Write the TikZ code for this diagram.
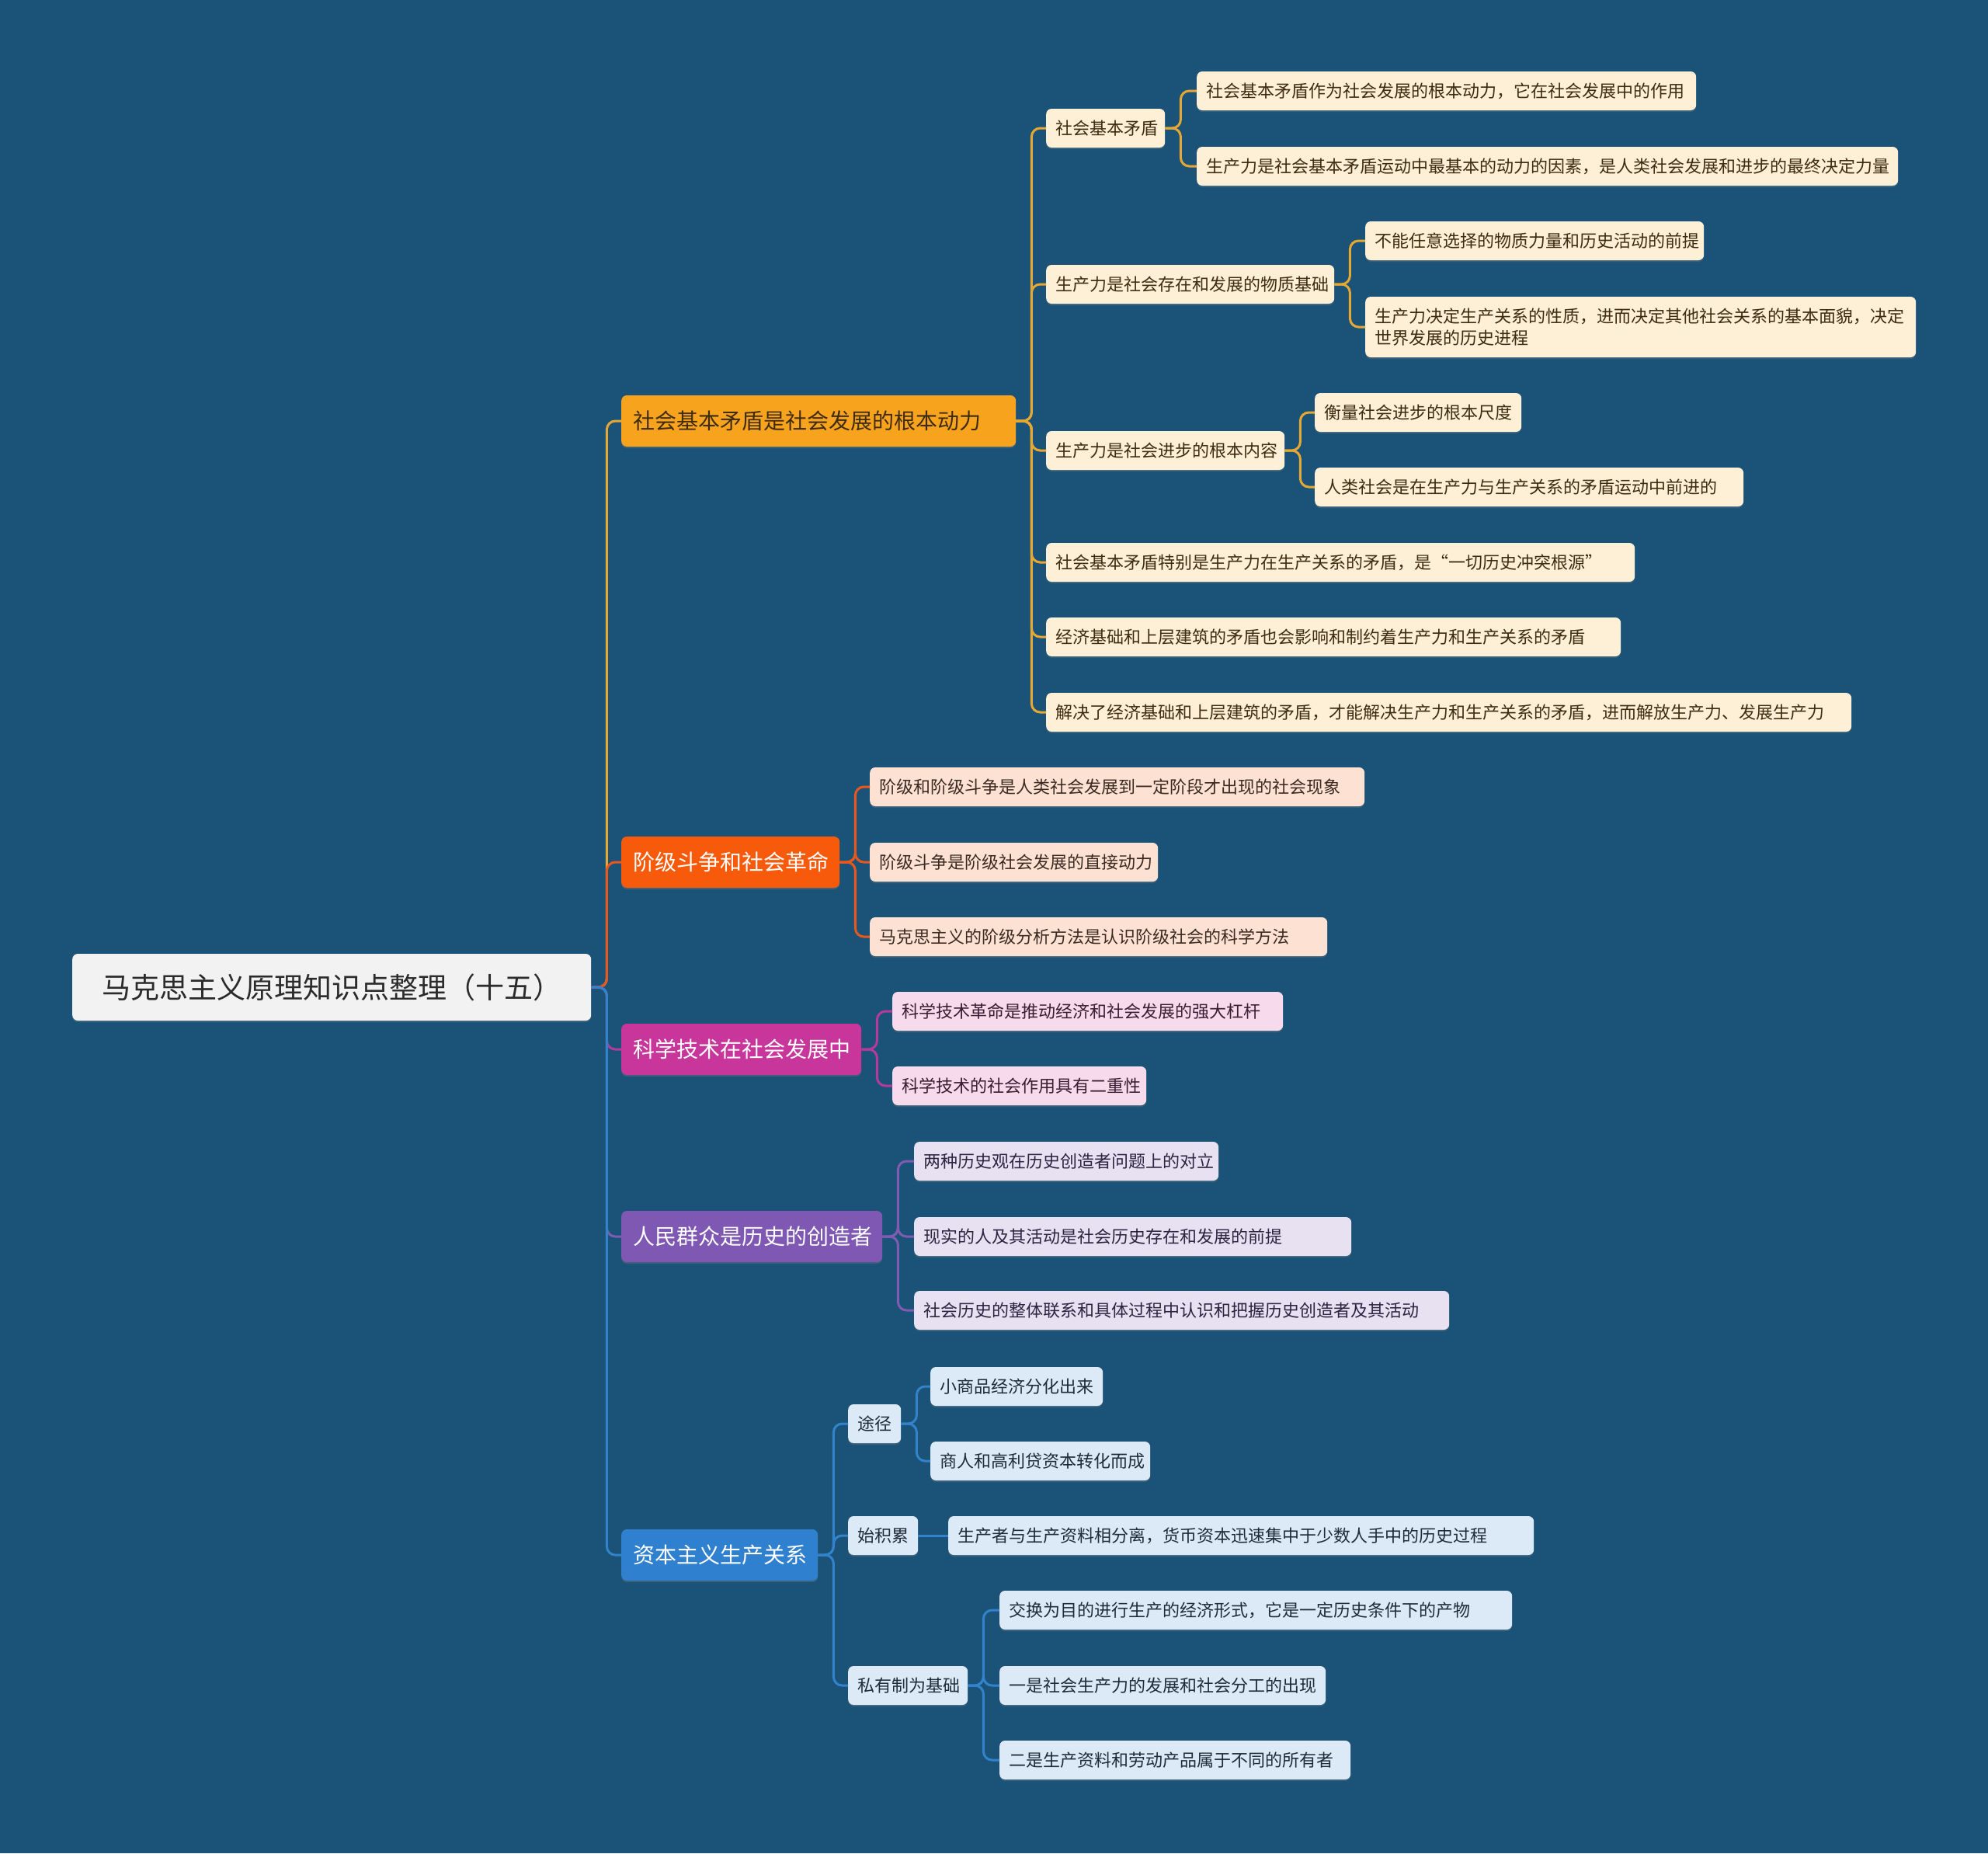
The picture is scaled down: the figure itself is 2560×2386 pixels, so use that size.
\documentclass[tikz,border=0pt]{standalone}
\usepackage{fontspec}
\setmainfont{Noto Sans CJK SC}
\usetikzlibrary{shadows}
\definecolor{bg}{HTML}{1A5377}
\definecolor{rootfill}{HTML}{F2F2F2}
\definecolor{roottext}{HTML}{2B2B2B}
\definecolor{o1}{HTML}{F8A31D}
\definecolor{l1}{HTML}{E6A834}
\definecolor{f1}{HTML}{FDF0D6}
\definecolor{t1}{HTML}{3E2C12}
\definecolor{o2}{HTML}{F85A0B}
\definecolor{l2}{HTML}{E8581E}
\definecolor{f2}{HTML}{FDE2D3}
\definecolor{t2}{HTML}{3A2A22}
\definecolor{o3}{HTML}{C9369B}
\definecolor{l3}{HTML}{B63A9C}
\definecolor{f3}{HTML}{F7DAEB}
\definecolor{t3}{HTML}{3A1D32}
\definecolor{o4}{HTML}{7E58B2}
\definecolor{l4}{HTML}{7F5CB2}
\definecolor{f4}{HTML}{E8E1F2}
\definecolor{t4}{HTML}{2C2440}
\definecolor{o5}{HTML}{2F80CE}
\definecolor{l5}{HTML}{3383CC}
\definecolor{f5}{HTML}{DCEAF7}
\definecolor{t5}{HTML}{1F2B38}
\tikzset{
  mmbox/.style={rounded corners=7pt, anchor=west, align=left, inner ysep=0pt,
    drop shadow={shadow xshift=0pt,shadow yshift=-2pt,opacity=.3}},
  rootbox/.style={mmbox, fill=rootfill, text=roottext, inner xsep=38pt,
    minimum height=86pt, font=\fontsize{37}{44}\selectfont},
  brbox/.style={mmbox, fill=#1, text=white, inner xsep=15pt,
    minimum height=66pt, font=\fontsize{28}{34}\selectfont},
  leaf/.style={mmbox, fill=#1, inner xsep=12pt,
    minimum height=50pt, font=\fontsize{22}{28}\selectfont},
  conn/.style={draw=#1, line width=3pt, rounded corners=11pt},
}
\begin{document}
\begin{tikzpicture}[x=1pt,y=-1pt]
\fill[bg] (0,0) rectangle (2560,2386);
\useasboundingbox (0,0) rectangle (2560,2386);

% root and branches
\node[rootbox, text width=592pt] (root) at (93,1271) {马克思主义原理知识点整理（十五）};
\node[brbox=o1, text=t1, text width=478pt] (b1) at (800,542) {社会基本矛盾是社会发展的根本动力};
\node[brbox=o2, text width=251pt] (b2) at (800,1110) {阶级斗争和社会革命};
\node[brbox=o3, text width=279pt] (b3) at (800,1351) {科学技术在社会发展中};
\node[brbox=o4, text width=306pt] (b4) at (800,1592) {人民群众是历史的创造者};
\node[brbox=o5, text width=223pt] (b5) at (800,2002) {资本主义生产关系};

% branch 1 children
\tikzset{every node/.append style={}}
\node[leaf=f1, text=t1, text width=129pt] (a1) at (1347,165) {社会基本矛盾};
\node[leaf=f1, text=t1, text width=347pt] (a2) at (1347,366) {生产力是社会存在和发展的物质基础};
\node[leaf=f1, text=t1, text width=283pt] (a3) at (1347,580) {生产力是社会进步的根本内容};
\node[leaf=f1, text=t1, text width=734pt] (a4) at (1347,724) {社会基本矛盾特别是生产力在生产关系的矛盾，是“一切历史冲突根源”};
\node[leaf=f1, text=t1, text width=716pt] (a5) at (1347,820) {经济基础和上层建筑的矛盾也会影响和制约着生产力和生产关系的矛盾};
\node[leaf=f1, text=t1, text width=1013pt] (a6) at (1347,917) {解决了经济基础和上层建筑的矛盾，才能解决生产力和生产关系的矛盾，进而解放生产力、发展生产力};

\node[leaf=f1, text=t1, text width=619pt] (c1) at (1541,117) {社会基本矛盾作为社会发展的根本动力，它在社会发展中的作用};
\node[leaf=f1, text=t1, text width=879pt] (c2) at (1541,214) {生产力是社会基本矛盾运动中最基本的动力的因素，是人类社会发展和进步的最终决定力量};
\node[leaf=f1, text=t1, text width=412pt] (c3) at (1758,310) {不能任意选择的物质力量和历史活动的前提};
\node[leaf=f1, text=t1, text width=685pt, minimum height=78pt] (c4) at (1758,421) {生产力决定生产关系的性质，进而决定其他社会关系的基本面貌，决定\\世界发展的历史进程};
\node[leaf=f1, text=t1, text width=242pt] (c5) at (1693,531) {衡量社会进步的根本尺度};
\node[leaf=f1, text=t1, text width=528pt] (c6) at (1693,627) {人类社会是在生产力与生产关系的矛盾运动中前进的};

% branch 2 children
\node[leaf=f2, text=t2, text width=613pt] (d1) at (1120,1013) {阶级和阶级斗争是人类社会发展到一定阶段才出现的社会现象};
\node[leaf=f2, text=t2, text width=347pt] (d2) at (1120,1110) {阶级斗争是阶级社会发展的直接动力};
\node[leaf=f2, text=t2, text width=565pt] (d3) at (1120,1206) {马克思主义的阶级分析方法是认识阶级社会的科学方法};

% branch 3 children
\node[leaf=f3, text=t3, text width=479pt] (e1) at (1149,1302) {科学技术革命是推动经济和社会发展的强大杠杆};
\node[leaf=f3, text=t3, text width=303pt] (e2) at (1149,1398) {科学技术的社会作用具有二重性};

% branch 4 children
\node[leaf=f4, text=t4, text width=368pt] (g1) at (1177,1495) {两种历史观在历史创造者问题上的对立};
\node[leaf=f4, text=t4, text width=539pt] (g2) at (1177,1592) {现实的人及其活动是社会历史存在和发展的前提};
\node[leaf=f4, text=t4, text width=665pt] (g3) at (1177,1687) {社会历史的整体联系和具体过程中认识和把握历史创造者及其活动};

% branch 5 children
\node[leaf=f5, text=t5, text width=44pt] (h1) at (1092,1833) {途径};
\node[leaf=f5, text=t5, text width=66pt] (h2) at (1092,1977) {始积累};
\node[leaf=f5, text=t5, text width=130pt] (h3) at (1092,2170) {私有制为基础};
\node[leaf=f5, text=t5, text width=198pt] (i1) at (1198,1785) {小商品经济分化出来};
\node[leaf=f5, text=t5, text width=259pt] (i2) at (1198,1881) {商人和高利贷资本转化而成};
\node[leaf=f5, text=t5, text width=730pt] (j1) at (1221,1977) {生产者与生产资料相分离，货币资本迅速集中于少数人手中的历史过程};
\node[leaf=f5, text=t5, text width=636pt] (k1) at (1287,2073) {交换为目的进行生产的经济形式，它是一定历史条件下的产物};
\node[leaf=f5, text=t5, text width=396pt] (k2) at (1287,2170) {一是社会生产力的发展和社会分工的出现};
\node[leaf=f5, text=t5, text width=428pt] (k3) at (1287,2266) {二是生产资料和劳动产品属于不同的所有者};

% connectors
\draw[conn=l1] (root.east) -- ++(20,0) |- (b1.west);
\draw[conn=l2] (root.east) -- ++(20,0) |- (b2.west);
\draw[conn=l3] (root.east) -- ++(20,0) |- (b3.west);
\draw[conn=l4] (root.east) -- ++(20,0) |- (b4.west);
\draw[conn=l5] (root.east) -- ++(20,0) |- (b5.west);

\foreach \c in {a1,a2,a3,a4,a5,a6} \draw[conn=l1] (b1.east) -- ++(20,0) |- (\c.west);
\foreach \c in {c1,c2} \draw[conn=l1] (a1.east) -- ++(20,0) |- (\c.west);
\foreach \c in {c3,c4} \draw[conn=l1] (a2.east) -- ++(20,0) |- (\c.west);
\foreach \c in {c5,c6} \draw[conn=l1] (a3.east) -- ++(20,0) |- (\c.west);
\foreach \c in {d1,d2,d3} \draw[conn=l2] (b2.east) -- ++(20,0) |- (\c.west);
\foreach \c in {e1,e2} \draw[conn=l3] (b3.east) -- ++(20,0) |- (\c.west);
\foreach \c in {g1,g2,g3} \draw[conn=l4] (b4.east) -- ++(20,0) |- (\c.west);
\foreach \c in {h1,h2,h3} \draw[conn=l5] (b5.east) -- ++(20,0) |- (\c.west);
\foreach \c in {i1,i2} \draw[conn=l5] (h1.east) -- ++(20,0) |- (\c.west);
\draw[conn=l5] (h2.east) -- (j1.west);
\foreach \c in {k1,k2,k3} \draw[conn=l5] (h3.east) -- ++(20,0) |- (\c.west);
\end{tikzpicture}
\end{document}
